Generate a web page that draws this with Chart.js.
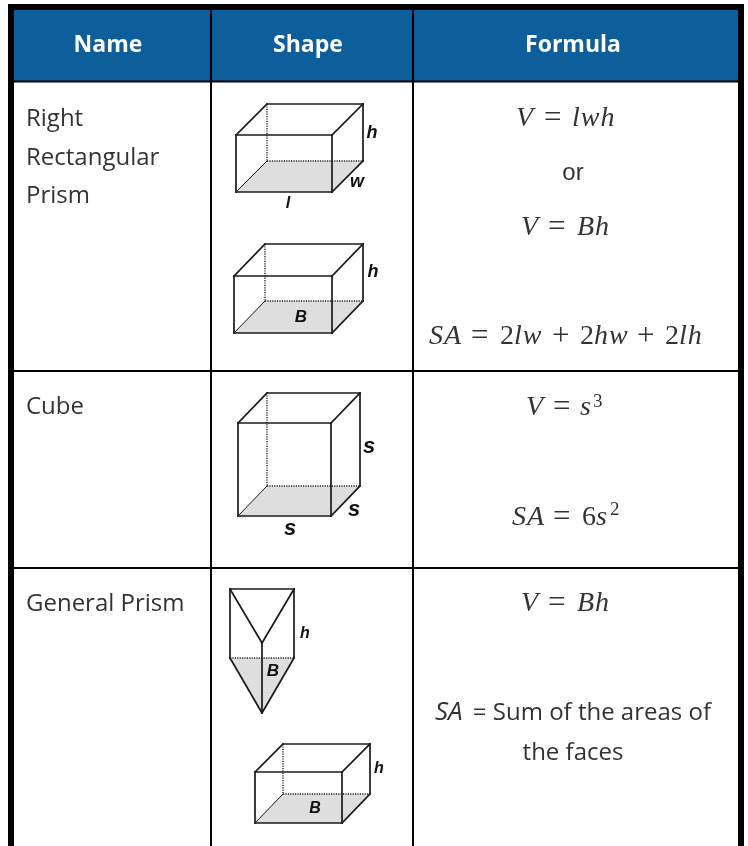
<!DOCTYPE html>
<html><head><meta charset="utf-8">
<style>html,body{margin:0;padding:0;background:#fff}canvas{display:block}#w{width:748px;height:846px;position:relative}</style>
<script src="https://cdn.jsdelivr.net/npm/chart.js@4/dist/chart.umd.min.js"></script>
</head><body><div id="w"><canvas id="c"></canvas></div>
<script>
// ---- table structure (page coordinates on hidden linear axes)
const columnLines = [211, 413];
const rowLines = [81.5, 371, 568];
const tableTop = 10, tableBottom = 846, tableLeft = 14, tableRight = 738, frameLeft = 8, frameRight = 744, frameTop = 4;

// ---- solids: front rectangle [x0,x1,y0,y1], back rectangle [x0,x1,y0,y1]
const boxOneFront = [236, 332, 135, 192], boxOneBack = [267, 363, 104, 161];
const boxTwoFront = [234, 332, 276, 333], boxTwoBack = [265, 363, 244, 301];
const cubeFront   = [238, 331, 423, 516], cubeBack   = [267, 360, 393, 486];
const boxThreeFront = [255, 342, 772, 823], boxThreeBack = [283, 370, 744, 794];
const prismEdges = [
  [[230,589],[294,589]], [[230,589],[230,658]], [[294,589],[294,658]],
  [[230,589],[262,643]], [[294,589],[262,643]], [[262,643],[262,713]],
  [[230,658],[262,713]], [[294,658],[262,713]]
];
const prismHidden = [[230,658],[294,658]];
const prismBaseLow = [[230,658],[262,713],[294,658]];

// ---- text
const headerLabels = [["Name",108,52],["Shape",308,52],["Formula",573,52]];
const nameLabels = [["Right",26,126],["Rectangular",26,165],["Prism",26,203],["Cube",26,414],["General Prism",26,611]];
const shapeLabels = [["h",372,138,18],["w",357,187,18],["l",288,208,16],["B",301,322,17],["h",373,277,18],
  ["s",369,453,22],["s",354,516,22],["s",290,535,22],["h",305,638,16],["B",273,676,17],["h",379,773,16],["B",315,813,16]];
const plainLabels = [["or",573,180,"c"],["= Sum of the areas of",711,720,"r"],["the faces",573,760,"c"]];
// math runs: text, x, baseline, italic?
const mathRuns = [
  ["V",516,126,1],["=",544,127,0],["lwh",572,126,1],
  ["V",521,235,1],["=",548,236,0],["Bh",577,235,1],
  ["SA",429,344,1],["=",471,345,0],["2",500,344,0],["lw",514,344,1],["+",552,345,0],["2",580,344,0],["hw",594,344,1],["+",637,345,0],["2",665,344,0],["lh",679,344,1],
  ["V",526,415,1],["=",553,416,0],["s",580,415,1],
  ["SA",512,525,1],["=",553,526,0],["6",582,525,0],["s",596,525,1],
  ["V",521,611,1],["=",548,612,0],["Bh",577,611,1]
];
const superRuns = [["3",593,407],["2",610,515]];
const italicLabels = [["SA",435,720]];

// ---- dataset builders
const ds = [];
const pts = a => a.map(p => ({x:p[0], y:p[1]}));
function add(o){ ds.push(Object.assign({type:'scatter',showLine:true,pointRadius:0,borderWidth:0,tension:0,fill:false,borderColor:'#111'},o)); return ds.length-1; }
function rect(x0,x1,y0,y1,color){ add({data:pts([[x0,y1],[x1,y1]]),backgroundColor:color,fill:{target:{value:y0}}}); }
function line(a,w,color,dash){ add({data:pts(a),borderWidth:w,borderColor:color||'#111',borderDash:dash||[],borderCapStyle:dash?'butt':'square'}); }
const shade = '#dedede', edge = '#1a1a1a', hiddenDash = [1.2,1.2];
function floor(f,b){
  const low = [[f[0],f[3]],[f[1],f[3]],[b[1],b[3]]];
  const high = [[f[0],f[3]],[b[0],b[3]],[b[1],b[3]]];
  const t = ds.length + 1;
  add({data:pts(low),backgroundColor:shade,fill:t});
  add({data:pts(high)});
}
function box(f,b){
  floor(f,b);
  const w=1.7;
  line([[b[0],b[2]],[b[0],b[3]]],1.4,'#222',hiddenDash);
  line([[b[0],b[3]],[b[1],b[3]]],1.4,'#222',hiddenDash);
  line([[f[0],f[2]],[f[1],f[2]]],w,edge);
  line([[f[0],f[3]],[f[1],f[3]]],w,edge);
  line([[f[0],f[2]],[f[0],f[3]]],w,edge);
  line([[f[1],f[2]],[f[1],f[3]]],w,edge);
  line([[b[0],b[2]],[b[1],b[2]]],w,edge);
  line([[b[1],b[2]],[b[1],b[3]]],w,edge);
  line([[f[0],f[2]],[b[0],b[2]]],w,edge);
  line([[f[1],f[2]],[b[1],b[2]]],w,edge);
  line([[f[0],f[3]],[b[0],b[3]]],1,edge);
  line([[f[1],f[3]],[b[1],b[3]]],w,edge);
}

// frame, header
rect(frameLeft,frameRight,frameTop,tableBottom,'#000');
rect(tableLeft,tableRight,tableTop,tableBottom,'#fff');
rect(tableLeft,tableRight,tableTop,81,'#0f5e9c');
rowLines.forEach(y=>line([[tableLeft,y],[tableRight,y]],2,'#000'));
columnLines.forEach(x=>line([[x,tableTop],[x,tableBottom]],2,'#000'));
// solids
box(boxOneFront,boxOneBack);
box(boxTwoFront,boxTwoBack);
box(cubeFront,cubeBack);
box(boxThreeFront,boxThreeBack);
add({data:pts(prismBaseLow),backgroundColor:shade,fill:{target:{value:prismHidden[0][1]}}});
line(prismHidden,1.4,'#222',hiddenDash);
prismEdges.forEach(e=>line(e,1.7,edge));
ds.forEach((d,i)=>{d.order=ds.length-i;});

const textPlugin = {
  id:'tableText',
  afterDatasetsDraw(ch){
    const c = ch.ctx, X = ch.scales.x, Y = ch.scales.y;
    const put = (t,x,y,font,color,align) => { c.font=font; c.fillStyle=color; c.textAlign=align||'left'; c.textBaseline='alphabetic'; c.fillText(t,X.getPixelForValue(x),Y.getPixelForValue(y)); };
    c.save();
    const sans='"Open Sans"', serif='"Liberation Serif"', arial='"Liberation Sans"', ink='#333';
    headerLabels.forEach(l=>put(l[0],l[1],l[2],`bold 23px ${sans}`,'#fff','center'));
    nameLabels.forEach(l=>put(l[0],l[1],l[2],`24px ${sans}`,ink));
    shapeLabels.forEach(l=>put(l[0],l[1],l[2],`italic bold ${l[3]}px ${arial}`,'#111','center'));
    plainLabels.forEach(l=>{
      const isOr = l[0]==="or";
      put(l[0],l[1],l[2],isOr?`24px ${arial}`:`24px ${sans}`,ink,isOr?'center':(l[3]==='r'?'right':'center'));
    });
    italicLabels.forEach(l=>put(l[0],l[1],l[2],`italic 26px ${sans}`,ink));
    mathRuns.forEach(r=>{
      const op = r[0]==='='||r[0]==='+';
      c.letterSpacing = r[0].length>1 ? '1px' : '0px';
      put(r[0],r[1],r[2],`${r[3]?'italic ':''}${op?31:28}px ${serif}`,ink);
    });
    c.letterSpacing='0px';
    superRuns.forEach(r=>put(r[0],r[1],r[2],`19px ${serif}`,ink));
    c.restore();
  }
};
new Chart(document.getElementById('c'),{
  data:{datasets:ds},
  plugins:[textPlugin],
  options:{
    responsive:true,maintainAspectRatio:false,animation:false,
    layout:{padding:0},
    plugins:{legend:{display:false},tooltip:{enabled:false},title:{display:false}},
    scales:{
      x:{type:'linear',display:false,min:0,max:748},
      y:{type:'linear',display:false,min:0,max:846,reverse:true}
    }
  }
});
</script></body></html>
